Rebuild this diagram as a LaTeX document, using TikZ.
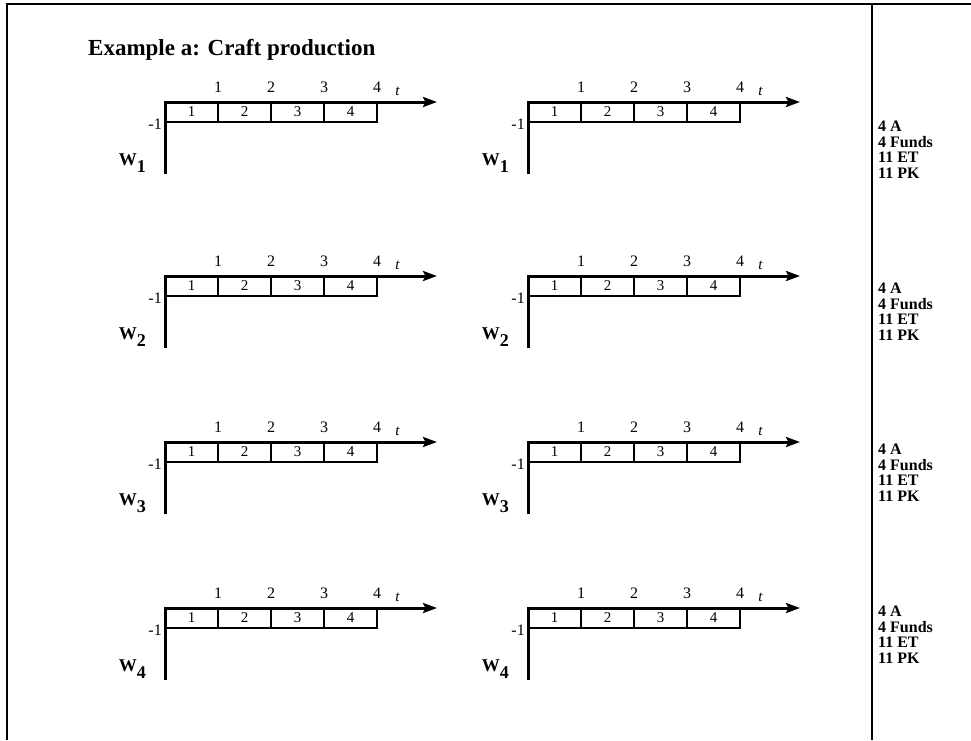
\documentclass[tikz,border=0pt]{standalone}
\usepackage{fontspec}
\setmainfont{Liberation Serif}
\usetikzlibrary{arrows.meta,positioning}
\begin{document}
\begin{tikzpicture}[
  x=1pt, y=-1pt,
  cell/.style={draw, line width=2pt, minimum width=53pt, minimum height=20pt, inner sep=0pt, outer sep=0pt, font=\fontsize{15}{15}\selectfont},
  axis/.style={line width=3pt},
  arr/.style={-{Stealth[length=14pt,width=10pt,inset=2.5pt]}, line width=3pt},
  tick/.style={font=\fontsize{16}{16}\selectfont, inner sep=0pt},
  worker/.style={font=\fontsize{18}{18}\selectfont\bfseries, inner sep=0pt},
  res/.style={font=\fontsize{16}{15.5}\selectfont\bfseries, align=left, inner sep=0pt},
  frame/.style={line width=2.6pt}
]
\useasboundingbox (0,0) rectangle (971,740);
% outer frame and divider
\coordinate (fl) at (7,740);
\coordinate (ftl) at (7,4);
\coordinate (ftr) at (971,4);
\coordinate (dt) at (872,4);
\coordinate (db) at (872,740);
\draw[frame] (fl) -- (ftl) -- (ftr);
\draw[frame] (dt) -- (db);
\node[font=\fontsize{23}{23}\selectfont\bfseries, anchor=base west, inner sep=0pt] (title) at (88,55) {Example a: Craft production};
% one time chart per worker and variant
\foreach \r/\yy/\ry in {1/102/121,2/276/283,3/442/444,4/608/606} {
  \foreach \c/\xx in {1/165,2/528} {
    \coordinate (o\r\c) at (\xx,\yy);
    \coordinate (tip\r\c) at (\xx+272,\yy);
    \coordinate (bot\r\c) at (\xx,\yy+72);
    \foreach \k in {1,...,4} {
      \node[cell, anchor=north west] (c\r\c\k) at (\xx+53*\k-53,\yy) {\k};
      \node[tick, above=9pt of c\r\c\k.north east] (n\r\c\k) {\k};
    }
    \node[tick, font=\fontsize{15}{15}\selectfont\itshape, right=14pt of n\r\c4, yshift=-4pt] (t\r\c) {t};
    \node[tick, left=3pt of c\r\c1.south west, yshift=-2pt] (m\r\c) {-1};
    \node[worker, anchor=east] (w\r\c) at (\xx-19,\yy+61) {W\raisebox{-7pt}{\r}};
    \draw[arr] (o\r\c) -- (tip\r\c);
    \draw[axis] (o\r\c) -- (bot\r\c);
  }
  \node[res, anchor=north west] (res\r) at (878,\ry) {4 A\\4 Funds\\11 ET\\11 PK};
}
\end{tikzpicture}
\end{document}
